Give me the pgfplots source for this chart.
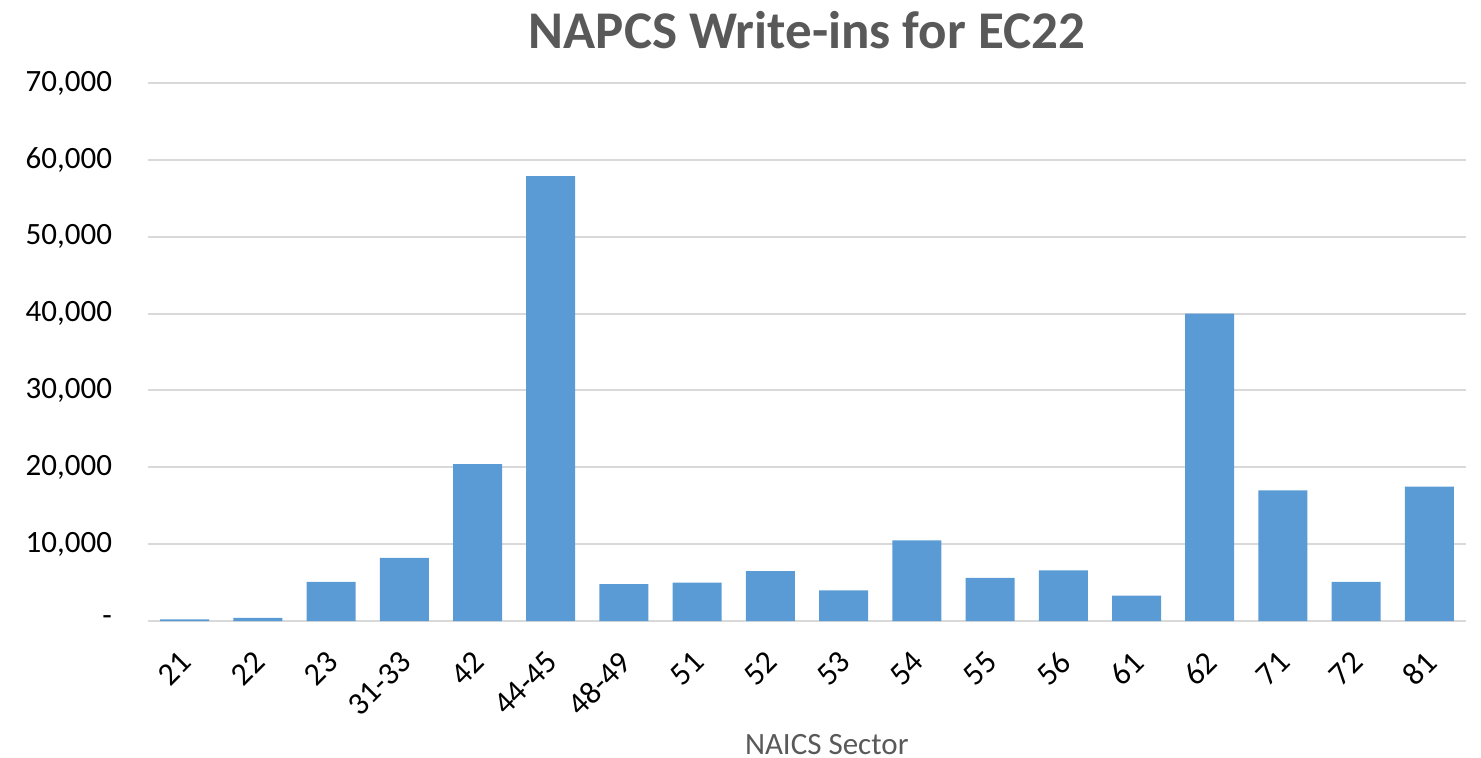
\documentclass[border=0pt]{standalone}
\usepackage{pgfplots}
\pgfplotsset{compat=1.18}
\usepackage{fontspec}
\setmainfont{Carlito}
\definecolor{barblue}{HTML}{5B9BD5}
\definecolor{gridgray}{HTML}{D9D9D9}
\definecolor{titlegray}{HTML}{595959}
\begin{document}
\begin{tikzpicture}
\begin{axis}[
  name=ax,
  scale only axis,
  width=659pt, height=269pt,
  xmin=-0.5, xmax=17.5,
  ymin=0, ymax=70000,
  axis line style={draw=none},
  ybar, bar width=24.5pt,
  xtick={0,...,17},
  xticklabels={21,22,23,31-33,42,44-45,48-49,51,52,53,54,55,56,61,62,71,72,81},
  ytick={0,10000,20000,30000,40000,50000,60000,70000},
  yticklabels={{-},{10,000},{20,000},{30,000},{40,000},{50,000},{60,000},{70,000}},
  scaled y ticks=false,
  ymajorgrids,
  major grid style={draw=gridgray, line width=1pt},
  major tick length=0pt,
  tick label style={font=\fontsize{15.5}{18}\selectfont, text=black},
  /pgf/number format/assume math mode=true,
  yticklabel style={anchor=east, xshift=-14.5pt},
  xticklabel style={font=\fontsize{16}{18}\selectfont, inner sep=0pt, yshift=-14pt, xshift=-3pt, rotate=45, anchor=north east},
  title={NAPCS Write-ins for EC22},
  title style={font=\fontsize{26.5}{30}\bfseries\selectfont, text=titlegray, anchor=base, at={(0.5,1)}, yshift=11.5pt},
  xlabel={NAICS Sector},
  xlabel style={font=\fontsize{15.5}{18}\selectfont, text=titlegray, anchor=base, at={(0.515,0)}, yshift=-66.5pt},
]
\addplot[fill=barblue, draw=none] coordinates {
(0,200) (1,400) (2,5100) (3,8200) (4,20400) (5,57900) (6,4800) (7,5000) (8,6500)
(9,4000) (10,10500) (11,5600) (12,6600) (13,3300) (14,40000) (15,17000) (16,5100) (17,17500)
};
\end{axis}
\pgfresetboundingbox
\path (ax.south west) ++(-74pt,-68pt) rectangle ++(740.5pt,378.5pt);
\end{tikzpicture}
\end{document}
